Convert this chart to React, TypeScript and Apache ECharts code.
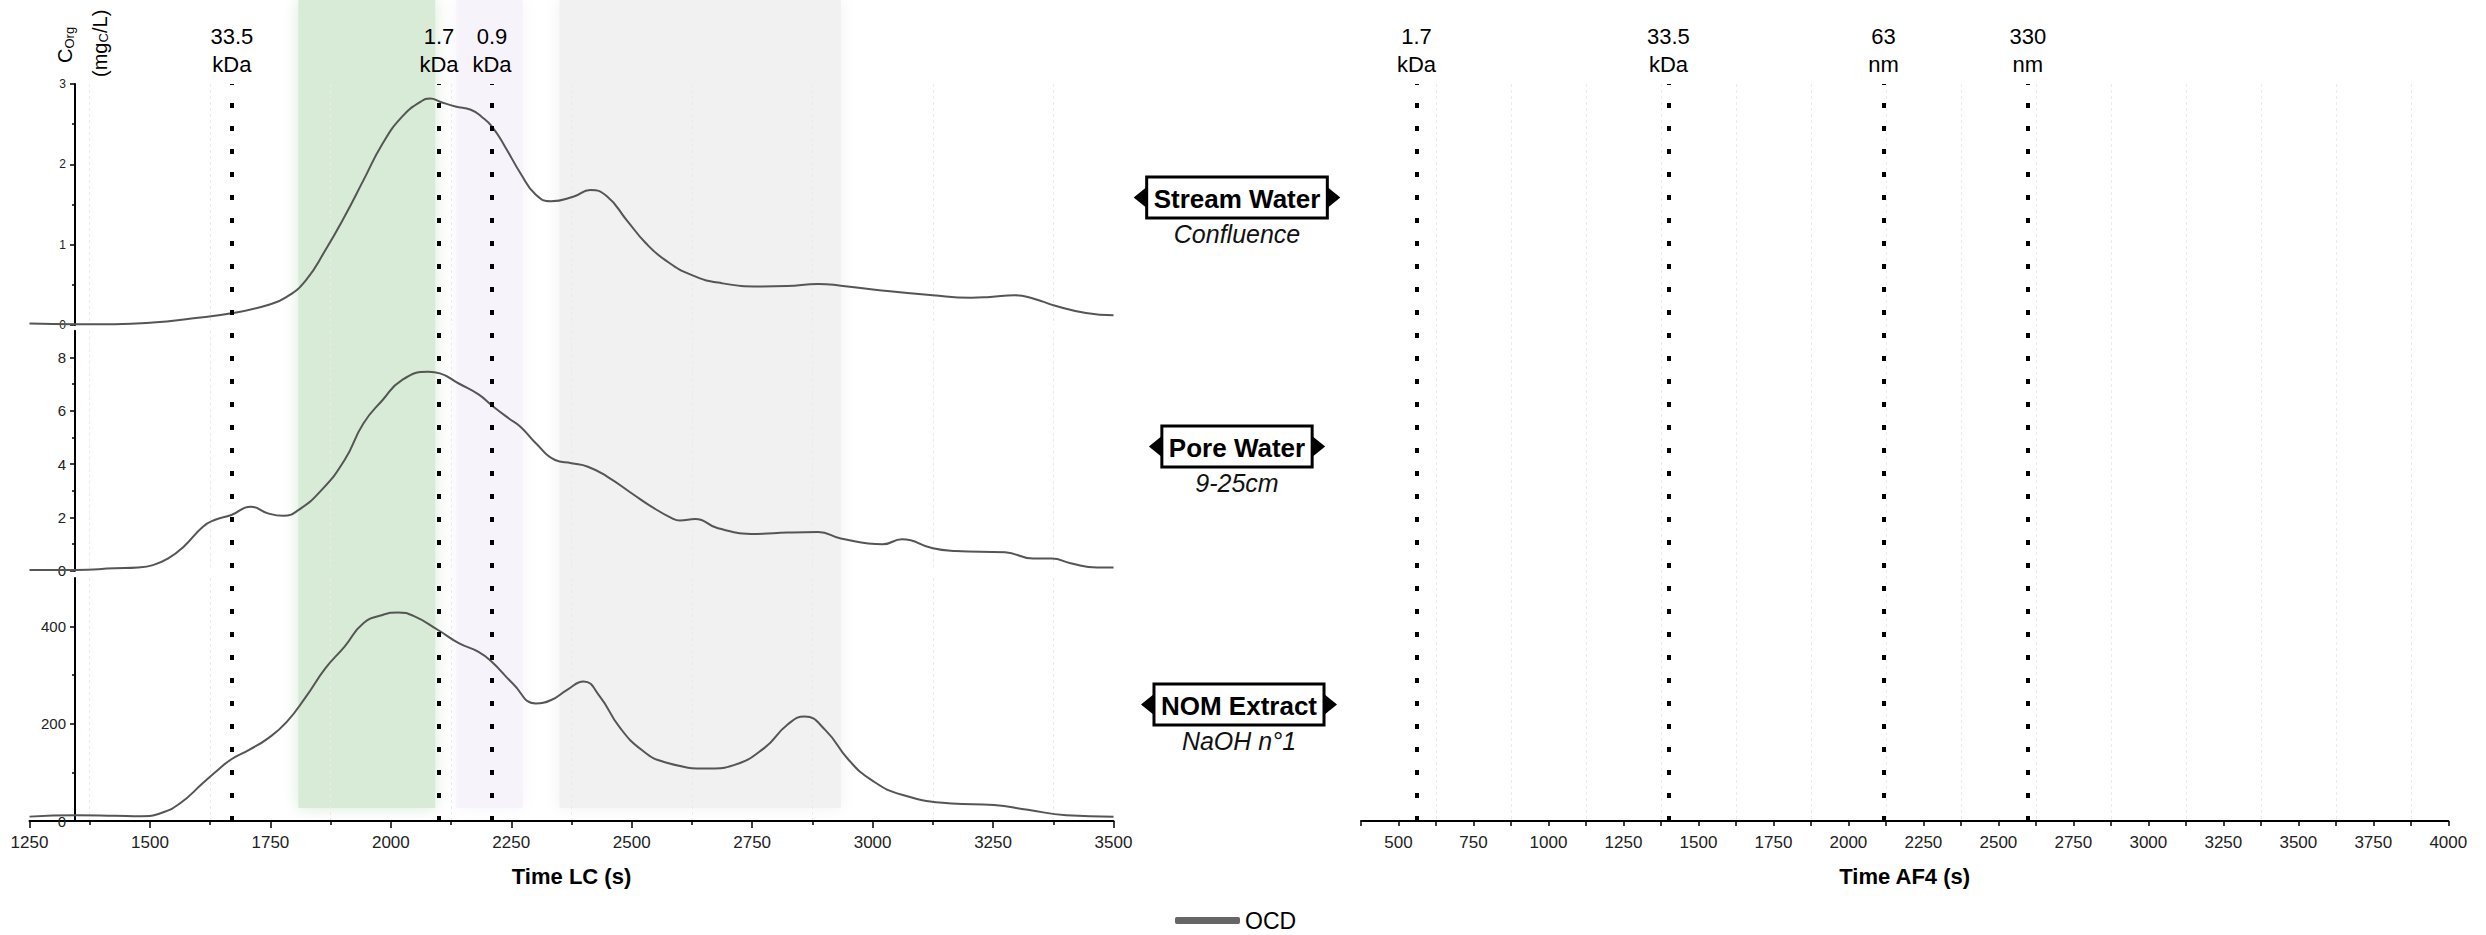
import React, { useEffect, useRef } from "react";
import * as echarts from "echarts";

const FONT = '"Liberation Sans", Arial, Helvetica, sans-serif';

// OCD chromatograms: LC retention time (s) and organic carbon (mgC/L)
const streamTime = [1250, 1347, 1427, 1506, 1586, 1669, 1745, 1784, 1824, 1864, 1904, 1943, 1983, 2023, 2062, 2082, 2102, 2134, 2166, 2189, 2210, 2237, 2269, 2301, 2333, 2380, 2414, 2449, 2489, 2529, 2569, 2625, 2687, 2767, 2822, 2887, 2934, 3005, 3125, 3204, 3244, 3295, 3333, 3379, 3443, 3500];
const streamOcd = [0.02, 0.01, 0.01, 0.03, 0.08, 0.145, 0.25, 0.35, 0.56, 0.93, 1.35, 1.8, 2.26, 2.59, 2.78, 2.82, 2.78, 2.72, 2.68, 2.59, 2.47, 2.22, 1.89, 1.62, 1.54, 1.6, 1.68, 1.6, 1.31, 1.02, 0.81, 0.62, 0.52, 0.48, 0.485, 0.51, 0.49, 0.44, 0.37, 0.34, 0.35, 0.37, 0.33, 0.24, 0.15, 0.12];

const poreTime = [1250, 1347, 1427, 1475, 1506, 1538, 1570, 1610, 1634, 1669, 1709, 1745, 1777, 1808, 1856, 1904, 1943, 1983, 2023, 2078, 2102, 2141, 2182, 2213, 2245, 2269, 2301, 2341, 2375, 2409, 2449, 2505, 2536, 2584, 2600, 2632, 2679, 2759, 2823, 2887, 2934, 3021, 3061, 3125, 3172, 3275, 3333, 3372, 3411, 3466, 3500];
const poreOcd = [0.03, 0.03, 0.09, 0.12, 0.21, 0.46, 0.9, 1.65, 1.9, 2.09, 2.4, 2.15, 2.06, 2.27, 3.02, 4.15, 5.52, 6.4, 7.15, 7.46, 7.4, 7.02, 6.61, 6.15, 5.71, 5.4, 4.78, 4.15, 4.03, 3.9, 3.53, 2.84, 2.46, 1.96, 1.88, 1.94, 1.59, 1.38, 1.43, 1.45, 1.21, 0.99, 1.18, 0.84, 0.74, 0.69, 0.46, 0.46, 0.28, 0.12, 0.12];

const nomTime = [1250, 1347, 1427, 1483, 1522, 1562, 1610, 1641, 1669, 1705, 1745, 1784, 1824, 1864, 1904, 1943, 1983, 2015, 2047, 2098, 2141, 2182, 2209, 2253, 2301, 2333, 2366, 2400, 2434, 2474, 2521, 2569, 2664, 2712, 2775, 2823, 2859, 2902, 2950, 2998, 3061, 3164, 3252, 3322, 3402, 3500];
const nomOcd = [9, 12, 11, 10, 16, 36, 78, 105, 127, 146, 170, 204, 256, 314, 359, 407, 424, 429, 422, 393, 366, 348, 328, 283, 242, 249, 270, 287, 256, 194, 146, 121, 108, 115, 150, 198, 215, 187, 126, 84, 54, 36, 33, 23, 12, 9];

// Molecular-size markers on both time scales
const lcMarkerTimes = [1670, 2100, 2210];
const lcMarkerLabels = ["33.5\nkDa", "1.7\nkDa", "0.9\nkDa"];
const af4MarkerTimes = [560, 1400, 2117, 2598];
const af4MarkerLabels = ["1.7\nkDa", "33.5\nkDa", "63\nnm", "330\nnm"];

// Shaded LC fractions
const bandStarts = [1808, 2136, 2350];
const bandEnds = [2092, 2274, 2934];
const bandColors = ["#d8ebd6", "#f7f3fb", "#f1f1f1"];

// Sample captions
const sampleNames = ["Stream Water", "Pore Water", "NOM Extract"];
const sampleDetails = ["Confluence", "9-25cm", "NaOH n°1"];

// Tick labels
const streamTicks = [0, 1, 2, 3];
const streamMinor = [0.5, 1.5, 2.5];
const poreTicks = [0, 2, 4, 6, 8];
const poreMinor = [1, 3, 5, 7];
const nomTicks = [0, 200, 400];
const nomMinor = [100, 300];
const af4Ticks = [500, 750, 1000, 1250, 1500, 1750, 2000, 2250, 2500, 2750, 3000, 3250, 3500, 3750, 4000];

const zip = (t: number[], v: number[]) => t.map((x, i) => [x, v[i]]);
const plain = (v: number) => String(v);

const measure = (text: string, font: string) => {
  const ctx = document.createElement("canvas").getContext("2d");
  if (!ctx) return text.length * 14;
  ctx.font = font;
  return ctx.measureText(text).width;
};

const AXIS_LINE = { color: "#000", width: 2 };
const TICK_LINE = { color: "#000", width: 1.5 };
const GRID_LINE = { color: "#ebebeb", width: 1, type: [3, 3] as number[] };
const Y_OFFSET = -45.5;

const LC_LEFT = 29.5;
const LC_WIDTH = 1084;

function lcXAxis(gridIndex: number, visible: boolean) {
  return {
    type: "value",
    gridIndex,
    min: 1250,
    max: 3500,
    interval: 250,
    position: "bottom",
    axisLine: { show: visible, onZero: false, lineStyle: AXIS_LINE },
    axisTick: { show: visible, length: 7, lineStyle: TICK_LINE },
    minorTick: { show: visible, splitNumber: 2, length: 4, lineStyle: TICK_LINE },
    axisLabel: { show: visible, fontSize: 17, color: "#222", margin: 13, fontFamily: FONT, formatter: plain },
    splitLine: { show: false },
    minorSplitLine: { show: true, lineStyle: GRID_LINE },
    name: visible ? "Time LC (s)" : "",
    nameLocation: "middle",
    nameGap: 44,
    nameTextStyle: { fontSize: 22, fontWeight: "bold", color: "#000", fontFamily: FONT },
  };
}

function concAxis(gridIndex: number, max: number, interval: number, ticks: number[], fontSize: number) {
  return {
    type: "value",
    gridIndex,
    min: 0,
    max,
    interval,
    position: "left",
    offset: Y_OFFSET,
    axisLine: { show: true, onZero: false, lineStyle: AXIS_LINE },
    axisTick: { show: true, length: 5, customValues: ticks, lineStyle: TICK_LINE },
    axisLabel: { show: true, customValues: ticks, fontSize, color: "#222", margin: 9, fontFamily: FONT, formatter: plain },
    splitLine: { show: false },
  };
}

function minorAxis(gridIndex: number, max: number, values: number[]) {
  return {
    type: "value",
    gridIndex,
    min: 0,
    max,
    position: "left",
    offset: Y_OFFSET,
    axisLine: { show: false },
    axisLabel: { show: false },
    splitLine: { show: false },
    axisTick: { show: true, length: 3, customValues: values, lineStyle: TICK_LINE },
  };
}

function hiddenAxis(gridIndex: number, min: number, max: number) {
  return { type: "value", gridIndex, min, max, show: false };
}

function markerSeries(name: string, xAxisIndex: number, yAxisIndex: number, times: number[], labels: string[]) {
  return {
    type: "line",
    name,
    xAxisIndex,
    yAxisIndex,
    data: [],
    silent: true,
    markLine: {
      silent: true,
      symbol: ["none", "none"],
      lineStyle: { color: "#000", width: 4, type: [5, 18] },
      label: {
        show: true,
        position: "end",
        formatter: "{b}",
        fontSize: 22,
        lineHeight: 28,
        color: "#000",
        distance: 6,
        fontFamily: FONT,
      },
      emphasis: { disabled: true },
      data: times.map((t, i) => ({ xAxis: t, name: labels[i] })),
    },
  };
}

function sampleLabel(name: string, detail: string, cx: number, cy: number) {
  const w = measure(name, `bold 26px ${FONT}`) + 14;
  const h = 41;
  const left = cx - w / 2;
  const right = cx + w / 2;
  return {
    type: "group",
    children: [
      { type: "polygon", shape: { points: [[left, cy - 10.5], [left, cy + 10.5], [left - 13, cy]] }, style: { fill: "#000" } },
      { type: "polygon", shape: { points: [[right, cy - 10.5], [right, cy + 10.5], [right + 13, cy]] }, style: { fill: "#000" } },
      { type: "rect", shape: { x: left, y: cy - h / 2, width: w, height: h }, style: { fill: "#fff", stroke: "#000", lineWidth: 3 } },
      {
        type: "text",
        x: cx,
        y: cy + 1,
        style: { text: name, fontSize: 26, fontWeight: "bold", fontFamily: FONT, fill: "#000", align: "center", verticalAlign: "middle" },
      },
      {
        type: "text",
        x: cx,
        y: cy + 36,
        style: { text: detail, fontSize: 25, fontStyle: "italic", fontFamily: FONT, fill: "#111", align: "center", verticalAlign: "middle" },
      },
    ],
  };
}

function textPart(text: string, x: number, y: number, size: number) {
  return {
    type: "text",
    x,
    y,
    style: { text, fontSize: size, fontFamily: FONT, fill: "#000", align: "left", verticalAlign: "middle" },
  };
}

export default function App() {
  const ref = useRef<HTMLDivElement>(null);

  useEffect(() => {
    if (!ref.current) return;
    const chart = echarts.init(ref.current, null, { renderer: "svg" });

    const labelCenters = [
      [1237, 197.5],
      [1237, 446.5],
      [1239, 704.5],
    ];

    const option: any = {
      animation: false,
      backgroundColor: "#fff",
      textStyle: { fontFamily: FONT },
      legend: {
        data: ["OCD"],
        left: 1175,
        top: 909,
        padding: 0,
        icon: "roundRect",
        itemWidth: 65,
        itemHeight: 7,
        itemGap: 5,
        selectedMode: false,
        textStyle: { fontSize: 23, color: "#000", fontFamily: FONT },
      },
      grid: [
        { left: LC_LEFT, width: LC_WIDTH, top: 84, height: 241, outerBoundsMode: "none" },
        { left: LC_LEFT, width: LC_WIDTH, top: 330.7, height: 240, outerBoundsMode: "none" },
        { left: LC_LEFT, width: LC_WIDTH, top: 578, height: 243, outerBoundsMode: "none" },
        { left: LC_LEFT, width: LC_WIDTH, top: 84, height: 737, outerBoundsMode: "none" },
        { left: LC_LEFT, width: LC_WIDTH, top: 0, height: 808, outerBoundsMode: "none" },
        { left: 1361, width: 1087.3, top: 84, height: 737, outerBoundsMode: "none" },
        { left: 1398.3, width: 1050, top: 84, height: 737, outerBoundsMode: "none" },
      ],
      xAxis: [
        lcXAxis(0, false),
        lcXAxis(1, false),
        lcXAxis(2, true),
        hiddenAxis(3, 1250, 3500),
        hiddenAxis(4, 1250, 3500),
        {
          type: "value",
          gridIndex: 5,
          min: 375,
          max: 4000,
          interval: 125,
          position: "bottom",
          axisLine: { show: true, onZero: false, lineStyle: AXIS_LINE },
          axisTick: { show: true, length: 5, lineStyle: TICK_LINE },
          axisLabel: { show: true, customValues: af4Ticks, fontSize: 17, color: "#222", margin: 13, fontFamily: FONT, formatter: plain },
          splitLine: { show: false },
          name: "Time AF4 (s)",
          nameLocation: "middle",
          nameGap: 44,
          nameTextStyle: { fontSize: 22, fontWeight: "bold", color: "#000", fontFamily: FONT },
        },
        {
          type: "value",
          gridIndex: 6,
          min: 500,
          max: 4000,
          interval: 250,
          position: "bottom",
          axisLine: { show: false },
          axisTick: { show: false },
          axisLabel: { show: false },
          splitLine: { show: false },
          minorTick: { show: false, splitNumber: 2 },
          minorSplitLine: { show: true, lineStyle: GRID_LINE },
        },
      ],
      yAxis: [
        concAxis(0, 3, 1, streamTicks, 12),
        minorAxis(0, 3, streamMinor),
        concAxis(1, 9, 1, poreTicks, 15),
        minorAxis(1, 9, poreMinor),
        concAxis(2, 500, 100, nomTicks, 15),
        minorAxis(2, 500, nomMinor),
        hiddenAxis(3, 0, 1),
        hiddenAxis(4, 0, 1),
        hiddenAxis(5, 0, 1),
        hiddenAxis(6, 0, 1),
      ],
      series: [
        {
          type: "line",
          name: "fractions",
          xAxisIndex: 4,
          yAxisIndex: 7,
          data: [],
          silent: true,
          z: -1,
          markArea: {
            silent: true,
            z: -1,
            data: bandStarts.map((s, i) => [
              {
                xAxis: s,
                itemStyle: { color: bandColors[i], shadowBlur: 16, shadowColor: bandColors[i] },
              },
              { xAxis: bandEnds[i] },
            ]),
          },
        },
        ...[
          { x: 0, y: 0, data: zip(streamTime, streamOcd) },
          { x: 1, y: 2, data: zip(poreTime, poreOcd) },
          { x: 2, y: 4, data: zip(nomTime, nomOcd) },
        ].map((s) => ({
          type: "line",
          name: "OCD",
          xAxisIndex: s.x,
          yAxisIndex: s.y,
          data: s.data,
          showSymbol: false,
          smooth: 0.5,
          lineStyle: { color: "#555", width: 2 },
          itemStyle: { color: "#666" },
          z: 3,
        })),
        markerSeries("lc markers", 3, 6, lcMarkerTimes, lcMarkerLabels),
        markerSeries("af4 markers", 5, 8, af4MarkerTimes, af4MarkerLabels),
      ],
      graphic: [
        {
          type: "group",
          x: 65,
          y: 63,
          rotation: Math.PI / 2,
          children: [textPart("C", 0, 0, 20), textPart("Org", 14.5, 4, 13)],
        },
        {
          type: "group",
          x: 99.5,
          y: 77,
          rotation: Math.PI / 2,
          children: [textPart("(mg", 0, 0, 20), textPart("C", 34.5, 4, 13), textPart("/L)", 44, 0, 20)],
        },
        ...sampleNames.map((n, i) => sampleLabel(n, sampleDetails[i], labelCenters[i][0], labelCenters[i][1])),
      ],
    };

    chart.setOption(option);
    return () => chart.dispose();
  }, []);

  return (
    <div
      ref={ref}
      style={{ position: "absolute", left: 0, top: 0, width: 2486, height: 935, background: "#fff" }}
    />
  );
}
